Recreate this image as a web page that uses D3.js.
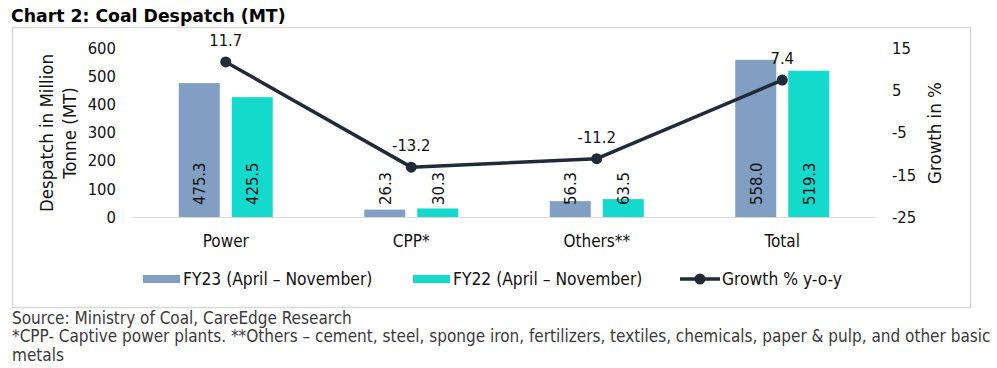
<!DOCTYPE html>
<html>
<head>
<meta charset="utf-8">
<script src="https://cdn.jsdelivr.net/npm/d3@7"></script>
<style>
  html, body { margin: 0; padding: 0; background: #fff; }
  svg { display: block; }
  text { font-family: "DejaVu Sans Condensed", "DejaVu Sans", sans-serif; fill: #111; }
</style>
</head>
<body>
<svg id="chart" width="997" height="368"></svg>
<script>
// ---- Data ----
const categories = ["Power", "CPP*", "Others**", "Total"];
const seriesNames = ["FY23 (April – November)", "FY22 (April – November)"];
const fy23 = [475.3, 26.3, 56.3, 558.0];
const fy22 = [425.5, 30.3, 63.5, 519.3];
const growth = [11.7, -13.2, -11.2, 7.4];
const growthName = "Growth % y-o-y";
const leftTicks = [0, 100, 200, 300, 400, 500, 600];
const rightTicks = [-25, -15, -5, 5, 15];
const titleText = "Chart 2: Coal Despatch (MT)";
const leftAxisTitle = ["Despatch in Million", "Tonne (MT)"];
const rightAxisTitle = "Growth in %";
const footnotes = [
  "Source: Ministry of Coal, CareEdge Research",
  "*CPP- Captive power plants. **Others – cement, steel, sponge iron, fertilizers, textiles, chemicals, paper & pulp, and other basic",
  "metals"
];

// ---- Styles ----
const colFY23 = "#809fc2";
const colFY22 = "#14d9cd";
const colLine = "#202a38";

const loc = d3.formatLocale({ decimal: ".", thousands: ",", grouping: [3], currency: ["", ""], minus: "-" });
const f1 = loc.format(".1f");
const f0 = loc.format("d");

const svg = d3.select("#chart");

// Title
svg.append("text").attr("x", 11).attr("y", 22)
  .style("font-family", "'DejaVu Sans', sans-serif")
  .style("font-weight", "bold").style("font-size", "17.3px").style("fill", "#000")
  .text(titleText);

// Chart border
svg.append("rect").attr("x", 12.5).attr("y", 27.5).attr("width", 958).attr("height", 280)
  .attr("fill", "none").attr("stroke", "#d9d9d9").attr("stroke-width", 1.5);

// Scales
const plotL = 133, plotR = 875, plotT = 48, plotB = 217;
const x = d3.scaleBand().domain(categories).range([plotL, plotR]).padding(0);
const x1 = d3.scaleBand().domain(["FY23", "FY22"]).range([-47, 47]).paddingInner(0.226);
const yL = d3.scaleLinear().domain([0, 600]).range([plotB, plotT]);
const yR = d3.scaleLinear().domain([-25, 15]).range([plotB, plotT]);

// Left axis
const axL = d3.axisLeft(yL).tickValues(leftTicks).tickFormat(f0).tickSize(0).tickPadding(0);
const gL = svg.append("g").attr("transform", "translate(116,0)").call(axL);
gL.select(".domain").remove();
gL.selectAll("text").style("font-size", "16.5px").style("font-family", "'DejaVu Sans Condensed','DejaVu Sans',sans-serif").attr("fill", "#111");

// Right axis
const axR = d3.axisRight(yR).tickValues(rightTicks).tickFormat(f0).tickSize(0).tickPadding(0);
const gR = svg.append("g").attr("transform", "translate(892,0)").call(axR);
gR.select(".domain").remove();
gR.selectAll("text").style("font-size", "16.5px").style("font-family", "'DejaVu Sans Condensed','DejaVu Sans',sans-serif").attr("fill", "#111");

// Axis titles
svg.append("text").attr("transform", "translate(47,133) rotate(-90)")
  .attr("text-anchor", "middle").attr("dy", "0.35em").style("font-size", "18.5px")
  .text(leftAxisTitle[0]);
svg.append("text").attr("transform", "translate(70,133) rotate(-90)")
  .attr("text-anchor", "middle").attr("dy", "0.35em").style("font-size", "18.5px")
  .text(leftAxisTitle[1]);
svg.append("text").attr("transform", "translate(935,133) rotate(-90)")
  .attr("text-anchor", "middle").attr("dy", "0.35em").style("font-size", "18.5px")
  .text(rightAxisTitle);

// Baseline
svg.append("line").attr("x1", plotL).attr("x2", plotR).attr("y1", plotB + 0.5).attr("y2", plotB + 0.5)
  .attr("stroke", "#d9d9d9").attr("stroke-width", 1.2);

// Bars
const barData = categories.flatMap((c, i) => [
  { cat: c, key: "FY23", v: fy23[i], col: colFY23 },
  { cat: c, key: "FY22", v: fy22[i], col: colFY22 }
]);
const cx = c => x(c) + x.bandwidth() / 2;
svg.append("g").selectAll("rect").data(barData).join("rect")
  .attr("x", d => cx(d.cat) + x1(d.key))
  .attr("width", x1.bandwidth())
  .attr("y", d => yL(d.v))
  .attr("height", d => yL(0) - yL(d.v))
  .attr("fill", d => d.col);

// Bar value labels (rotated, inside base)
svg.append("g").selectAll("text").data(barData).join("text")
  .attr("transform", d => `translate(${cx(d.cat) + x1(d.key) + x1.bandwidth() / 2},205) rotate(-90)`)
  .attr("dy", "0.35em").attr("text-anchor", "start")
  .style("font-size", "16.5px")
  .text(d => f1(d.v));

// Category labels
svg.append("g").selectAll("text").data(categories).join("text")
  .attr("x", d => cx(d)).attr("y", 241).attr("dy", "0.35em")
  .attr("text-anchor", "middle").style("font-size", "17px")
  .text(d => d);

// Growth line
const lineData = categories.map((c, i) => ({ cat: c, v: growth[i] }));
svg.append("path").datum(lineData)
  .attr("d", d3.line().x(d => cx(d.cat)).y(d => yR(d.v)))
  .attr("fill", "none").attr("stroke", colLine).attr("stroke-width", 3.5)
  .attr("stroke-linejoin", "round");
svg.append("g").selectAll("circle").data(lineData).join("circle")
  .attr("cx", d => cx(d.cat)).attr("cy", d => yR(d.v)).attr("r", 5.5)
  .attr("fill", colLine);
svg.append("g").selectAll("text").data(lineData).join("text")
  .attr("x", d => cx(d.cat)).attr("y", d => yR(d.v) - 16)
  .attr("text-anchor", "middle").style("font-size", "16.5px")
  .text(d => f1(d.v));

// Legend
const legY = 279;
const leg = svg.append("g");
[[143, colFY23, seriesNames[0]], [413, colFY22, seriesNames[1]]].forEach(([lx, col, name]) => {
  leg.append("rect").attr("x", lx).attr("y", legY - 4).attr("width", 37).attr("height", 8).attr("fill", col);
  leg.append("text").attr("x", lx + 40).attr("y", legY).attr("dy", "0.35em").style("font-size", "17.3px").text(name);
});
leg.append("line").attr("x1", 680).attr("x2", 720).attr("y1", legY).attr("y2", legY)
  .attr("stroke", colLine).attr("stroke-width", 3.5);
leg.append("circle").attr("cx", 700).attr("cy", legY).attr("r", 5.5).attr("fill", colLine);
leg.append("text").attr("x", 722).attr("y", legY).attr("dy", "0.35em").style("font-size", "17.3px").text(growthName);

// Footnotes
svg.append("g").selectAll("text").data(footnotes).join("text")
  .attr("x", 12).attr("y", (d, i) => 318 + i * 18.5).attr("dy", "0.35em")
  .style("font-size", "17px").style("fill", "#3a3a3a")
  .text(d => d);
</script>
</body>
</html>
